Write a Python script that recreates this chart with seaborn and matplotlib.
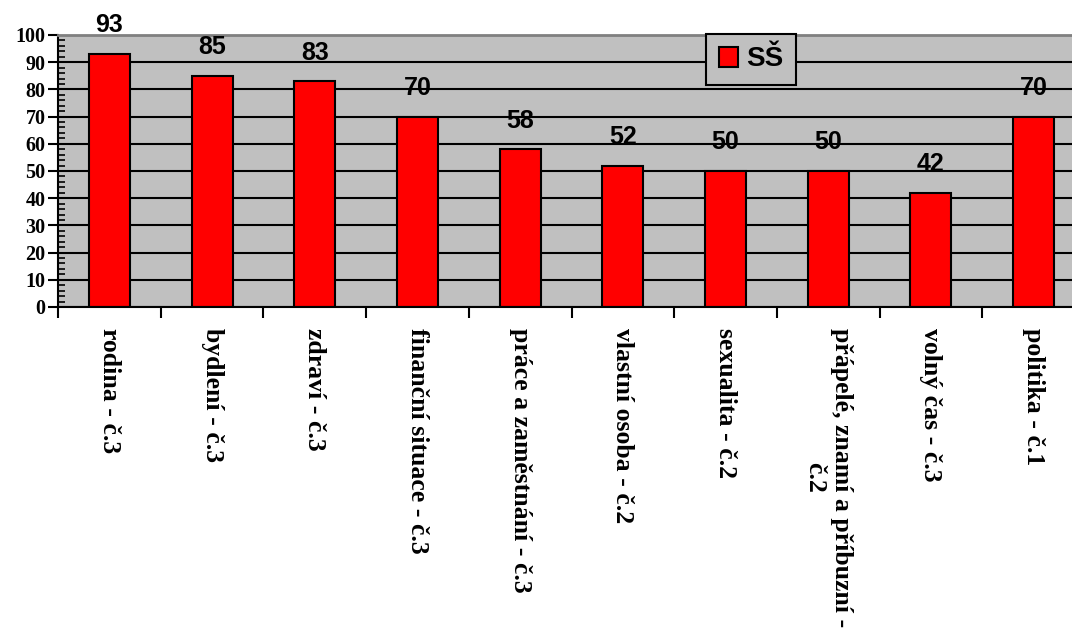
import matplotlib
matplotlib.use("Agg")
import matplotlib.pyplot as plt
from matplotlib.patches import Patch
from matplotlib.ticker import MultipleLocator, FixedLocator
import seaborn as sns

categories = [
    "rodina - č.3",
    "bydlení - č.3",
    "zdraví - č.3",
    "finanční situace - č.3",
    "práce a zaměstnání - č.3",
    "vlastní osoba - č.2",
    "sexualita - č.2",
    "přápelé, znamí a příbuzní -\nč.2",
    "volný čas - č.3",
    "politika - č.1",
]
values = [93, 85, 83, 70, 58, 52, 50, 50, 42, 70]
series_name = "SŠ"

sns.set_theme(style="white")
plt.rcParams['font.family'] = ['Liberation Serif', 'DejaVu Serif']
plt.rcParams['text.color'] = 'black'

fig = plt.figure(figsize=(10.72, 6.3), dpi=100)
ax = fig.add_axes([58 / 1072, 1 - 307 / 630, 1027 / 1072, 272 / 630])
ax.set_facecolor('#C0C0C0')

sns.barplot(x=categories, y=values, color='#FF0000', saturation=1,
            edgecolor='black', linewidth=1.5, width=0.4, ax=ax)

# value labels above bars
for c in ax.containers:
    ax.bar_label(c, padding=12, fontsize=18, fontweight='bold',
                 family='Liberation Sans', color='black')

ax.set_xlim(-0.5, len(categories) - 0.5)
ax.set_ylim(0, 100)
ax.set_xlabel('')
ax.set_ylabel('')

# y axis: major ticks out, minor ticks in
ax.yaxis.set_major_locator(MultipleLocator(10))
ax.yaxis.set_minor_locator(MultipleLocator(2))
ax.tick_params(axis='y', which='major', direction='out', length=7, width=1.5,
               color='black', left=True, pad=2)
ax.tick_params(axis='y', which='minor', direction='in', length=5, width=1.2,
               color='black', left=True)
for t in ax.get_yticklabels():
    t.set_fontsize(14.5)
    t.set_fontweight('bold')
    t.set_color('black')

# x axis: ticks on category boundaries, labels rotated
ax.xaxis.set_minor_locator(FixedLocator([i - 0.5 for i in range(len(categories) + 1)]))
ax.tick_params(axis='x', which='minor', direction='out', length=8, width=1.5,
               color='black', bottom=True)
ax.tick_params(axis='x', which='major', length=0, pad=15)
ax.set_xticks(range(len(categories)))
ax.set_xticklabels(categories, rotation=-90, ha='center', va='top',
                   multialignment='center', fontsize=18.5, fontweight='bold',
                   color='black')

ax.grid(False)
ax.yaxis.grid(True, color='black', linewidth=1.5)
ax.set_axisbelow(True)

ax.spines['left'].set_color('black')
ax.spines['left'].set_linewidth(1.5)
ax.spines['bottom'].set_color('black')
ax.spines['bottom'].set_linewidth(1.5)
ax.spines['top'].set_color('#808080')
ax.spines['top'].set_linewidth(2)
ax.spines['right'].set_color('#808080')

handles = [Patch(facecolor='#FF0000', edgecolor='black', linewidth=1.5, label=series_name)]
leg = fig.legend(handles=handles, loc='upper left',
                 bbox_to_anchor=(706 / 1072, 1 - 34 / 630),
                 bbox_transform=fig.transFigure, borderaxespad=0,
                 fancybox=False, framealpha=1, facecolor='#C0C0C0',
                 edgecolor='black', handlelength=0.7, handleheight=0.7,
                 handletextpad=0.3, borderpad=0.45, labelcolor='black',
                 prop={'family': 'Liberation Sans', 'weight': 'bold', 'size': 20})
leg.get_frame().set_linewidth(1.5)

fig.savefig('out.png', dpi=100)
